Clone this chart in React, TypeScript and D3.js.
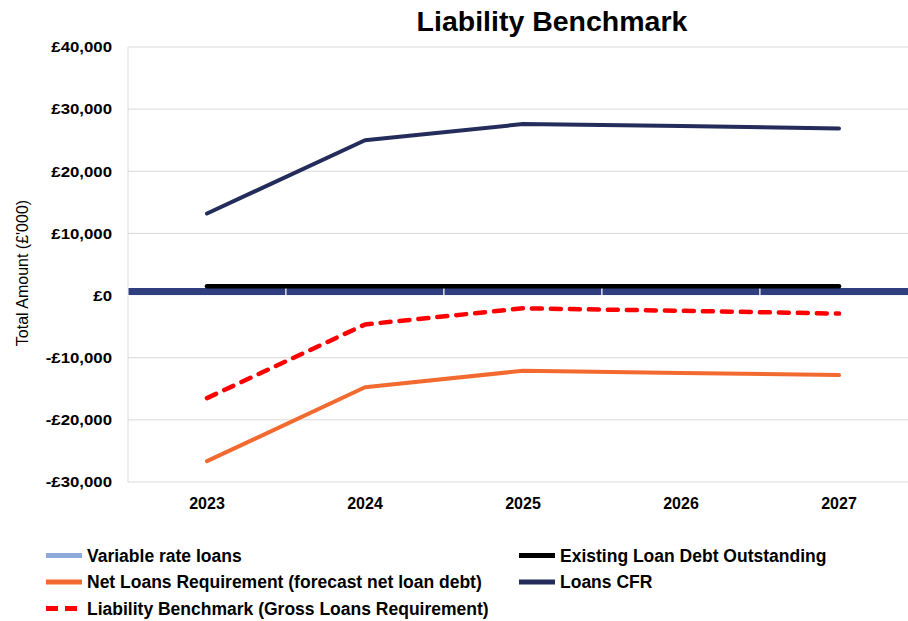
import React from 'react';
import * as d3 from 'd3';

const years = ['2023', '2024', '2025', '2026', '2027'];
const variableRateLoans = [1300, 1300, 1300, 1300, 1300];
const existingLoanDebt = [1500, 1500, 1500, 1500, 1500];
const netLoansRequirement = [-26650, -14750, -12100, -12450, -12800];
const loansCFR = [13200, 25000, 27600, 27300, 26900];
const liabilityBenchmark = [-16500, -4650, -2050, -2450, -2900];
const yTicks = [40000, 30000, 20000, 10000, 0, -10000, -20000, -30000];

const W = 908;
const H = 621;
const FONT = '"Liberation Sans", Arial, sans-serif';

const fmt = (v: number) => (v < 0 ? '-£' : '£') + d3.format(',')(Math.abs(v));

export default function App() {
  const x = d3.scaleBand<string>().domain(years).range([128, 918]).padding(0);
  const y = d3.scaleLinear().domain([-30000, 40000]).range([482, 47]);
  const cx = (d: string) => (x(d) as number) + x.bandwidth() / 2;

  const line = (vals: number[]) =>
    d3.line<number>()
      .x((_, i) => cx(years[i]))
      .y(v => y(v))(vals) as string;

  const legend = [
    { label: 'Variable rate loans', color: '#8eaadb', dash: undefined, col: 0, row: 0 },
    { label: 'Existing Loan Debt Outstanding', color: '#000000', dash: undefined, col: 1, row: 0 },
    { label: 'Net Loans Requirement (forecast net loan debt)', color: '#f26a30', dash: undefined, col: 0, row: 1 },
    { label: 'Loans CFR', color: '#232c5a', dash: undefined, col: 1, row: 1 },
    { label: 'Liability Benchmark (Gross Loans Requirement)', color: '#ff0000', dash: '12 7', col: 0, row: 2 },
  ];

  return (
    <svg width={W} height={H} style={{ position: 'absolute', left: 0, top: 0, background: '#fff' }} fontFamily={FONT}>
      <text x={552} y={31} textAnchor="middle" fontSize={28.5} fontWeight="bold" fill="#000">
        Liability Benchmark
      </text>

      {/* gridlines */}
      {yTicks.map(t => (
        <line key={t} x1={128} x2={918} y1={y(t)} y2={y(t)} stroke="#d9d9d9" strokeWidth={1} />
      ))}
      <line x1={128} x2={128} y1={y(40000)} y2={y(-30000)} stroke="#d9d9d9" strokeWidth={1} />

      {/* y ticks */}
      {yTicks.map(t => (
        <text key={t} transform={`translate(112,${y(t)}) scale(1.12,1)`} dy="0.35em" textAnchor="end"
          fontSize={15} fontWeight="bold" fill="#000">
          {fmt(t)}
        </text>
      ))}
      <text transform={`translate(28,${273}) rotate(-90)`} textAnchor="middle" fontSize={16} fill="#000">
        Total Amount (£'000)
      </text>

      {/* variable rate loans bars */}
      {years.map((d, i) => (
        <rect key={d} x={x(d)} width={x.bandwidth()} y={y(variableRateLoans[i])}
          height={y(0) - y(variableRateLoans[i])} fill="#2e3e7e" stroke="#fff" strokeWidth={1} />
      ))}

      <path d={line(existingLoanDebt)} fill="none" stroke="#000" strokeWidth={4.5} strokeLinecap="round" />
      <path d={line(loansCFR)} fill="none" stroke="#232c5a" strokeWidth={4} strokeLinecap="round" strokeLinejoin="round" />
      <path d={line(netLoansRequirement)} fill="none" stroke="#f26a30" strokeWidth={4} strokeLinecap="round" strokeLinejoin="round" />
      <path d={line(liabilityBenchmark)} fill="none" stroke="#ff0000" strokeWidth={4.5} strokeDasharray="10 9" strokeLinecap="round" strokeLinejoin="round" />

      {/* x labels */}
      {years.map(d => (
        <text key={d} x={cx(d)} y={509} textAnchor="middle" fontSize={16} fontWeight="bold" fill="#000">
          {d}
        </text>
      ))}

      {/* legend */}
      {legend.map(l => {
        const lx = l.col === 0 ? 46 : 519;
        const ly = 555.5 + l.row * 26.5;
        return (
          <g key={l.label}>
            <line x1={lx} x2={lx + 36} y1={ly} y2={ly} stroke={l.color} strokeWidth={5}
              strokeDasharray={l.dash} />
            <text x={lx + 41} y={ly} dy="0.35em" fontSize={17.5} fontWeight="bold" fill="#000">
              {l.label}
            </text>
          </g>
        );
      })}
    </svg>
  );
}
